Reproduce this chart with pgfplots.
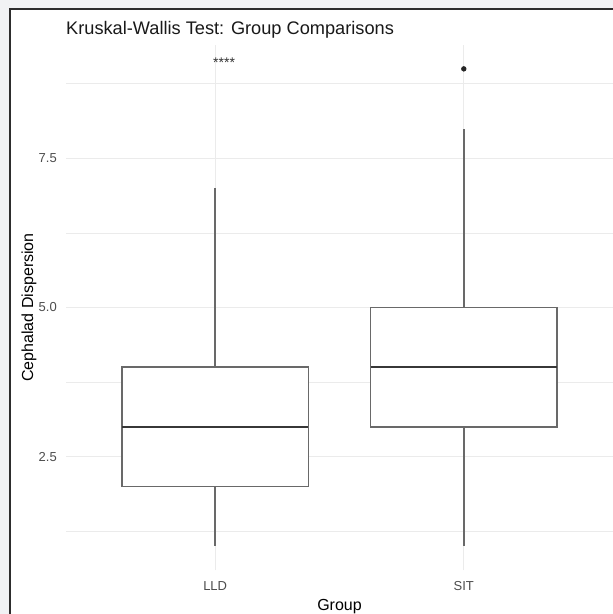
\documentclass[border=0pt]{standalone}
\usepackage{fontspec}
\setmainfont{Liberation Sans}
\usepackage{pgfplots}
\pgfplotsset{compat=1.18}
\usepgfplotslibrary{statistics}
\definecolor{bgcol}{RGB}{241,242,244}
\definecolor{framecol}{RGB}{45,45,45}
\definecolor{gridcol}{RGB}{235,235,235}
\definecolor{tickcol}{RGB}{77,77,77}
\definecolor{boxcol}{RGB}{105,105,105}
\definecolor{medcol}{RGB}{55,55,55}
\begin{document}
\begin{tikzpicture}[x=1pt,y=1pt]
\path[use as bounding box] (0,0) rectangle (613,-614);
\clip (0,0) rectangle (613,-614);
\fill[bgcol] (0,0) rectangle (613,-614);
\draw[framecol, line width=2pt, fill=white] (10,-9) rectangle (660,-660);
\begin{axis}[
  at={(66pt,-570pt)}, anchor=south west,
  scale only axis, width=547pt, height=525pt,
  xmin=0.4, xmax=2.6, ymin=0.6, ymax=9.4,
  xtick={1,2}, xticklabels={LLD,SIT},
  ytick={2.5,5,7.5}, yticklabels={2.5,5.0,7.5},
  minor ytick={1.25,3.75,6.25,8.75},
  xmajorgrids, ymajorgrids, yminorgrids,
  major grid style={draw=gridcol, line width=1pt},
  minor grid style={draw=gridcol, line width=0.6pt},
  axis line style={draw=none},
  major tick length=0pt, minor tick length=0pt,
  tick style={draw=none},
  xticklabel style={anchor=north, inner sep=0pt, yshift=-11pt, text=tickcol, font=\fontsize{13}{15}\selectfont},
  yticklabel style={anchor=east, inner sep=0pt, xshift=-9pt, text=tickcol, font=\fontsize{13}{15}\selectfont},
  xlabel={Group}, ylabel={Cephalad Dispersion},
  every axis x label/.style={at={(axis description cs:0.5,-0.078)}, anchor=base, inner sep=0pt, font=\fontsize{16}{18}\selectfont},
  every axis y label/.style={at={(axis description cs:-0.0603,0.5)}, anchor=base, rotate=90, inner sep=0pt, font=\fontsize{16}{18}\selectfont},
  boxplot/draw direction=y,
  boxplot/box extend=0.75,
  boxplot/whisker extend=0,
  boxplot/every box/.style={draw=boxcol, line width=1.5pt, fill=white},
  boxplot/every whisker/.style={draw=boxcol, line width=1.5pt},
  boxplot/every median/.style={draw=medcol, line width=1.8pt},
  clip=false,
]
\addplot[boxplot prepared={lower whisker=1, lower quartile=2, median=3, upper quartile=4, upper whisker=7, draw position=1},
  draw=boxcol, line width=1.5pt, mark=*, mark size=2.4pt, mark options={fill=black!85, draw=black!85, line width=0.5pt}] coordinates {};
\addplot[boxplot prepared={lower whisker=1, lower quartile=3, median=4, upper quartile=5, upper whisker=8, draw position=2},
  draw=boxcol, line width=1.5pt, mark=*, mark size=2.4pt, mark options={fill=black!85, draw=black!85, line width=0.5pt}] coordinates {(2,9)};
\node[anchor=base, inner sep=0pt, text=black!80, font=\fontsize{14}{16}\selectfont] at (axis cs:1.036,9.02) {****};
\end{axis}
\node[anchor=base west, inner sep=0pt, font=\fontsize{18.2}{20}\selectfont, text=black!90] at (66,-34) {Kruskal-Wallis Test: Group Comparisons};
\end{tikzpicture}
\end{document}
